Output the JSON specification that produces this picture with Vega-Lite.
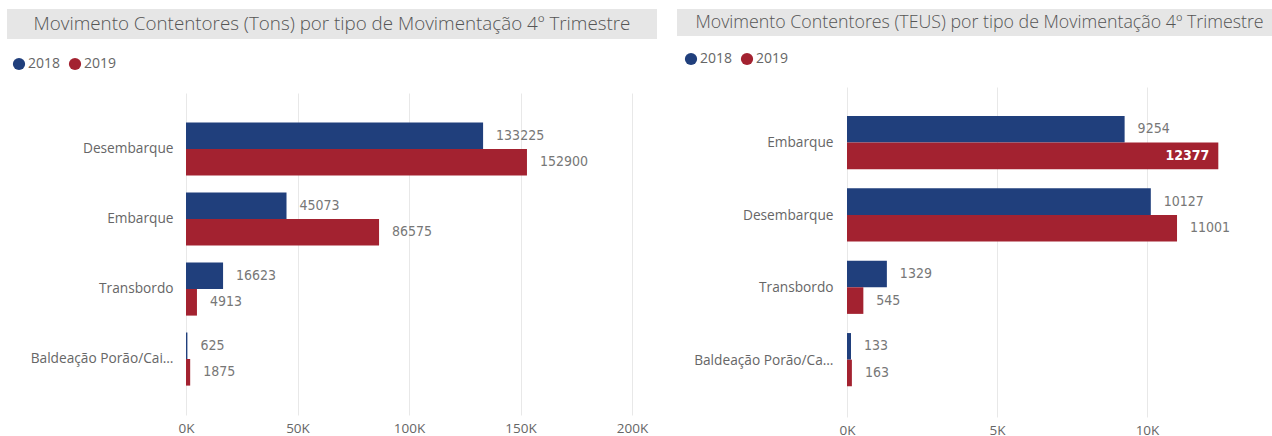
{
  "$schema": "https://vega.github.io/schema/vega-lite/v6.json",
  "padding": {"left": 7, "top": 9, "right": 0, "bottom": 0},
  "background": "white",
  "datasets": {
    "tons": [
      {"tipo": "Desembarque", "ano": "2018", "valor": 133225},
      {"tipo": "Desembarque", "ano": "2019", "valor": 152900},
      {"tipo": "Embarque", "ano": "2018", "valor": 45073},
      {"tipo": "Embarque", "ano": "2019", "valor": 86575},
      {"tipo": "Transbordo", "ano": "2018", "valor": 16623},
      {"tipo": "Transbordo", "ano": "2019", "valor": 4913},
      {"tipo": "Baldeação Porão/Cais/Porão", "ano": "2018", "valor": 625},
      {"tipo": "Baldeação Porão/Cais/Porão", "ano": "2019", "valor": 1875}
    ],
    "teus": [
      {"tipo": "Embarque", "ano": "2018", "valor": 9254},
      {"tipo": "Embarque", "ano": "2019", "valor": 12377},
      {"tipo": "Desembarque", "ano": "2018", "valor": 10127},
      {"tipo": "Desembarque", "ano": "2019", "valor": 11001},
      {"tipo": "Transbordo", "ano": "2018", "valor": 1329},
      {"tipo": "Transbordo", "ano": "2019", "valor": 545},
      {"tipo": "Baldeação Porão/Cais/Porão", "ano": "2018", "valor": 133},
      {"tipo": "Baldeação Porão/Cais/Porão", "ano": "2019", "valor": 163}
    ],
    "t1": [{"t": "Movimento Contentores (Tons) por tipo de Movimentação 4º Trimestre"}],
    "t2": [{"t": "Movimento Contentores (TEUS) por tipo de Movimentação 4º Trimestre"}]
  },
  "spacing": 20,
  "resolve": {"scale": {"color": "independent"}, "legend": {"color": "independent"}},
  "hconcat": [
    {
      "concat": [
        {
          "width": 650,
          "height": 30,
          "view": {"fill": "#e6e6e6", "stroke": null},
          "data": {"name": "t1"},
          "mark": {"type": "text", "font": "Open Sans", "fontSize": 18.8, "fontWeight": 300, "color": "#555555", "baseline": "middle", "align": "center"},
          "encoding": {"text": {"field": "t"}}
        },
        {
          "width": 650,
          "height": 322,
          "data": {"name": "tons"},
          "encoding": {
            "y": {
              "field": "tipo", "type": "nominal",
              "sort": ["Desembarque", "Embarque", "Transbordo", "Baldeação Porão/Cais/Porão"],
              "scale": {"paddingInner": 0.24, "paddingOuter": 0.42},
              "axis": {"title": null, "domain": false, "ticks": false, "offset": -166, "labelPadding": 0, "labelLimit": 145, "labelFont": "Open Sans", "labelFontSize": 13.7, "labelColor": "#666666"}
            },
            "yOffset": {"field": "ano", "type": "nominal", "sort": ["2018", "2019"], "scale": {"paddingInner": 0, "paddingOuter": 0}},
            "x": {
              "field": "valor", "type": "quantitative",
              "scale": {"domain": [0, 200000], "nice": false, "range": [179, 625]},
              "axis": {"title": null, "values": [0, 50000, 100000, 150000, 200000], "labelExpr": "datum.value / 1000 + 'K'", "labelFlush": false, "domain": false, "ticks": false, "grid": true, "gridColor": "#e8e8e8", "labelPadding": 6, "labelFont": "Open Sans", "labelFontSize": 13.5, "labelColor": "#666666"}
            }
          },
          "layer": [
            {
              "mark": {"type": "bar"},
              "encoding": {
                "color": {
                  "field": "ano", "type": "nominal",
                  "scale": {"domain": ["2018", "2019"], "range": ["#203f7c", "#a32230"]},
                  "legend": {"title": null, "orient": "none", "legendX": 0, "legendY": 43, "direction": "horizontal", "padding": 5, "symbolType": "circle", "symbolSize": 150, "symbolOpacity": 1, "labelFont": "Open Sans", "labelFontSize": 14, "labelColor": "#666666", "labelOffset": 2, "columnPadding": 7}
                }
              }
            },
            {
              "mark": {"type": "text", "align": "left", "baseline": "middle", "dx": 13, "font": "DejaVu Sans Condensed", "fontSize": 14, "color": "#777777"},
              "encoding": {"text": {"field": "valor", "type": "quantitative", "format": "d"}}
            }
          ]
        }
      ],
      "columns": 1,
      "spacing": 54
    },
    {
      "concat": [
        {
          "width": 595,
          "height": 27,
          "view": {"fill": "#e6e6e6", "stroke": null},
          "data": {"name": "t2"},
          "mark": {"type": "text", "font": "Open Sans", "fontSize": 17.8, "fontWeight": 300, "color": "#555555", "baseline": "middle", "align": "center", "dx": 5},
          "encoding": {"text": {"field": "t"}}
        },
        {
          "width": 595,
          "height": 330,
          "data": {"name": "teus"},
          "encoding": {
            "y": {
              "field": "tipo", "type": "nominal",
              "sort": ["Embarque", "Desembarque", "Transbordo", "Baldeação Porão/Cais/Porão"],
              "scale": {"paddingInner": 0.24, "paddingOuter": 0.4},
              "axis": {"title": null, "domain": false, "ticks": false, "offset": -156, "labelPadding": 0, "labelLimit": 141, "labelFont": "Open Sans", "labelFontSize": 13.7, "labelColor": "#666666"}
            },
            "yOffset": {"field": "ano", "type": "nominal", "sort": ["2018", "2019"], "scale": {"paddingInner": 0, "paddingOuter": 0}},
            "x": {
              "field": "valor", "type": "quantitative",
              "scale": {"domain": [0, 14000], "nice": false, "range": [170, 590]},
              "axis": {"title": null, "values": [0, 5000, 10000], "labelExpr": "datum.value / 1000 + 'K'", "labelFlush": false, "domain": false, "ticks": false, "grid": true, "gridColor": "#e8e8e8", "labelPadding": 6, "labelFont": "Open Sans", "labelFontSize": 13.5, "labelColor": "#666666"}
            }
          },
          "layer": [
            {
              "mark": {"type": "bar"},
              "encoding": {
                "color": {
                  "field": "ano", "type": "nominal",
                  "scale": {"domain": ["2018", "2019"], "range": ["#203f7c", "#a32230"]},
                  "legend": {"title": null, "orient": "none", "legendX": 0, "legendY": 36, "direction": "horizontal", "padding": 7, "symbolType": "circle", "symbolSize": 150, "symbolOpacity": 1, "labelFont": "Open Sans", "labelFontSize": 14, "labelColor": "#666666", "labelOffset": 2, "columnPadding": 7}
                }
              }
            },
            {
              "transform": [{"filter": "datum.valor < 12000"}],
              "mark": {"type": "text", "align": "left", "baseline": "middle", "dx": 13, "font": "DejaVu Sans Condensed", "fontSize": 14, "color": "#777777"},
              "encoding": {"text": {"field": "valor", "type": "quantitative", "format": "d"}}
            },
            {
              "transform": [{"filter": "datum.valor >= 12000"}],
              "mark": {"type": "text", "align": "right", "baseline": "middle", "dx": -9, "font": "DejaVu Sans Condensed", "fontSize": 14, "fontWeight": "bold", "color": "#ffffff"},
              "encoding": {"text": {"field": "valor", "type": "quantitative", "format": "d"}}
            }
          ]
        }
      ],
      "columns": 1,
      "spacing": 51
    }
  ],
  "config": {
    "view": {"stroke": null},
    "font": "Open Sans"
  }
}
